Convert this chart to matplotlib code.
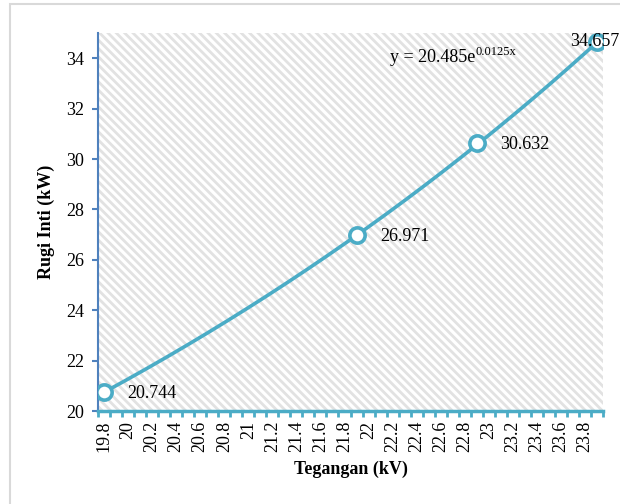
import numpy as np
import matplotlib.pyplot as plt
from matplotlib.patches import Rectangle

# data (category axis, 0.1 kV steps)
tegangan = [19.8, 21.9, 22.9, 23.9]
rugi_inti = [20.744, 26.971, 30.632, 34.657]
label_text = ['20.744', '26.971', '30.632', '34.657']
# exponential trendline shown on the chart, x = category index (1-based)
trend_a = 20.485
trend_b = 0.0125
x_start, x_step, n_cat = 19.8, 0.1, 42

plt.rcParams['font.family'] = ['Liberation Serif', 'DejaVu Serif']
plt.rcParams['hatch.linewidth'] = 2.0

teal = '#4BACC6'
blue = '#4F81BD'
fs = 13

fig = plt.figure(figsize=(6.2, 5.04), dpi=100)
fig.patches.append(Rectangle((10 / 620, -0.05), 1.2, (500 / 504) + 0.05,
                             transform=fig.transFigure, fill=False,
                             edgecolor='#d9d9d9', linewidth=1.5))
ax = fig.add_axes([98 / 620, 93 / 504, 505 / 620, 378 / 504])

# hatched plot area
ax.add_patch(Rectangle((0, 0), 1, 1, transform=ax.transAxes, facecolor='white',
                       edgecolor='#e2e2e2', linewidth=0, hatch='\\\\\\\\', zorder=0))

# trendline curve
idx = np.linspace(1, n_cat, 300)
xv = x_start + (idx - 1) * x_step
ax.plot(xv, trend_a * np.exp(trend_b * idx), color=teal, lw=2.6,
        solid_capstyle='round', zorder=2)
ax.plot(tegangan, rugi_inti, 'o', ms=11, mfc='white', mec=teal, mew=2.6, zorder=3)

for i, (x, y, t) in enumerate(zip(tegangan, rugi_inti, label_text)):
    if i == len(tegangan) - 1:
        ax.annotate(t, (x, y), xytext=(-19, 0), textcoords='offset points',
                    ha='left', va='center', fontsize=fs, annotation_clip=False)
    else:
        ax.annotate(t, (x, y), xytext=(17, -1), textcoords='offset points',
                    ha='left', va='center', fontsize=fs)

eq = ax.text(0.578, 0.935, 'y = 20.485e', transform=ax.transAxes,
             fontsize=fs, ha='left', va='center')
ax.annotate('0.0125x', xy=(1, 0.8), xycoords=eq, fontsize=9, ha='left', va='center')

ax.set_xlim(x_start - x_step / 2, x_start + (n_cat - 0.5) * x_step)
ax.set_ylim(20, 35)
ax.set_yticks(np.arange(20, 35, 2))

# category boundaries as ticks, labels at every other category
bounds = x_start - x_step / 2 + x_step * np.arange(n_cat + 1)
ax.set_xticks(bounds)
ax.set_xticklabels([])
lab_pos = x_start + 2 * x_step * np.arange(n_cat // 2)
ax.set_xticks(lab_pos, minor=True)
ax.set_xticklabels(['%g' % round(v, 1) for v in lab_pos], minor=True, rotation=90)
ax.tick_params(axis='x', which='major', length=4, width=2, color=teal)
ax.tick_params(axis='x', which='minor', length=0, pad=7, labelsize=fs)
ax.tick_params(axis='y', length=4, width=1.5, color=blue, labelsize=fs, pad=6)

for s in ['top', 'right']:
    ax.spines[s].set_visible(False)
ax.spines['left'].set_color(blue)
ax.spines['left'].set_linewidth(1.5)
ax.spines['bottom'].set_color(teal)
ax.spines['bottom'].set_linewidth(2.5)

ax.set_xlabel('Tegangan (kV)', fontsize=fs, fontweight='bold', labelpad=6)
ax.set_ylabel('Rugi Inti (kW)', fontsize=fs, fontweight='bold', labelpad=8)

fig.savefig('out.png', dpi=100)
